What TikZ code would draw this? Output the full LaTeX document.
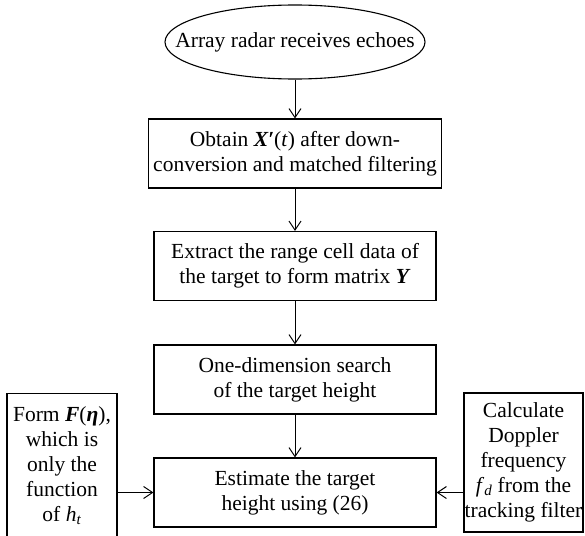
\documentclass[tikz,border=0pt]{standalone}
\usepackage{fontspec}
\setmainfont{Liberation Serif}
\usetikzlibrary{shapes.geometric,arrows.meta}

\tikzset{
  startnode/.style={draw, ellipse, line width=1.1pt, minimum width=260pt, minimum height=74pt, inner sep=0pt},
  proc/.style={draw, line width=1.1pt, align=center, minimum width=282pt, minimum height=69pt, inner sep=0pt},
  side/.style={draw, line width=1.1pt, align=center, inner xsep=0pt},
  flow/.style={line width=1pt, -{Straight Barb[length=9pt,width=12pt]}}
}

\begin{document}
\begin{tikzpicture}[x=1pt,y=-1pt,
    every node/.append style={font=\fontsize{21.5}{25}\selectfont}]
  \useasboundingbox (0,0) rectangle (585,535);
  \clip (0,0) rectangle (585,535);

  \node[startnode, label={center:Array radar receives echoes}] (echo) at (295,42) {};
  \node[proc, minimum width=293pt] (mf) at (295,153.5)
    {Obtain \textbf{\textit{X′}}(\textit{t}) after down-\\conversion and matched filtering};
  \node[proc] (cell) at (295,266)
    {Extract the range cell data of\\the target to form matrix \textbf{\textit{Y}}};
  \node[proc] (search) at (295,379.5)
    {One-dimension search\\of the target height};
  \node[proc] (est) at (295,492.5)
    {Estimate the target\\height using (26)};

  \node[side, anchor=north, minimum width=110pt, inner ysep=13pt] (form) at (62,393)
    {Form \textbf{\textit{F}}(\textbf{\textit{η}}),\\which is\\only the\\function\\of \textit{h}\textsubscript{\textit{t}}};
  \node[side, minimum width=119pt, minimum height=139pt] (dop) at (523.5,462.5)
    {Calculate\\Doppler\\frequency\\\textit{f}\textsubscript{\textit{d}} from the\\tracking filter};

  \draw[flow] (echo) -- (mf);
  \draw[flow] (mf) -- (cell);
  \draw[flow] (cell) -- (search);
  \draw[flow] (search) -- (est);
  \draw[flow] (est.west -| form.east) -- (est.west);
  \draw[flow] (est.east -| dop.west) -- (est.east);
\end{tikzpicture}
\end{document}
